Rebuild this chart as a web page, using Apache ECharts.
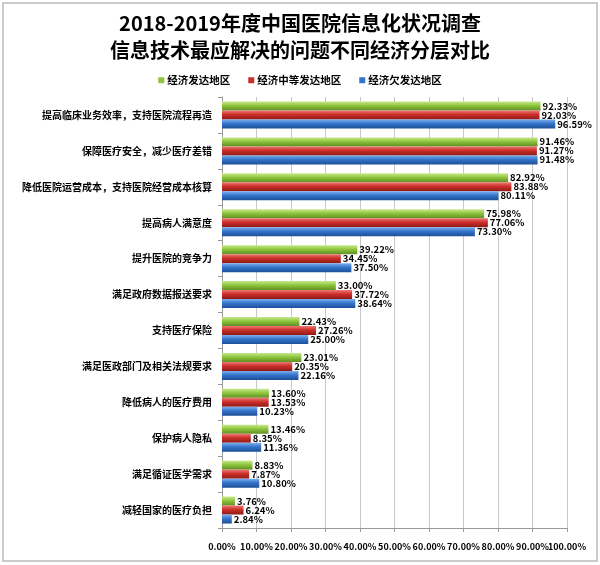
<!DOCTYPE html>
<html><head><meta charset="utf-8">
<script src="https://cdn.jsdelivr.net/npm/echarts@6/dist/echarts.min.js"></script>
<style>html,body{margin:0;padding:0;background:#fff}#c{width:600px;height:565px}</style>
</head><body><div id="c"></div>
<script>
var categories = ['提高临床业务效率，支持医院流程再造','保障医疗安全，减少医疗差错','降低医院运营成本，支持医院经营成本核算','提高病人满意度','提升医院的竞争力','满足政府数据报送要求','支持医疗保险','满足医政部门及相关法规要求','降低病人的医疗费用','保护病人隐私','满足循证医学需求','减轻国家的医疗负担'];
var developed = [92.33,91.46,82.92,75.98,39.22,33.00,22.43,23.01,13.60,13.46,8.83,3.76];
var mid = [92.03,91.27,83.88,77.06,34.45,37.72,27.26,20.35,13.53,8.35,7.87,6.24];
var under = [96.59,91.48,80.11,73.30,37.50,38.64,25.00,22.16,10.23,11.36,10.80,2.84];
var seriesNames = ['经济发达地区','经济中等发达地区','经济欠发达地区'];
var xTicks = [0,10,20,30,40,50,60,70,80,90,100];

var font = '"Noto Sans CJK SC", "Noto Sans", sans-serif';
function grad(light, base, dark){
  return new echarts.graphic.LinearGradient(0,0,0,1,[{offset:0,color:light},{offset:0.45,color:base},{offset:1,color:dark}]);
}
var colors = [grad('#c8ea8e','#8fc63e','#5f8f22'), grad('#ee7a76','#cc2f2a','#8e1a16'), grad('#7fb0ec','#3575cc','#1d4f95')];
var flat = ['#8fc63e','#cc2f2a','#3575cc'];
var data = [developed, mid, under];
var lastTick = xTicks[xTicks.length-1];
function pct(v){return v.toFixed(2)+'%';}
var chart = echarts.init(document.getElementById('c'));
chart.setOption({
  animation:false,
  textStyle:{fontFamily:font},
  title:{text:'2018-2019年度中国医院信息化状况调查\n信息技术最应解决的问题不同经济分层对比',left:'center',top:5,
    textStyle:{fontSize:20,fontWeight:'bold',color:'#000',lineHeight:27,fontFamily:font}},
  legend:{top:70,left:'center',itemWidth:6,itemHeight:6,itemGap:18,icon:'rect',
    textStyle:{fontSize:10.5,fontWeight:'bold',color:'#000',padding:[0,0,0,-2]},
    data:seriesNames.map(function(n,i){return {name:n,itemStyle:{color:flat[i]}};})},
  graphic:[{type:'rect',shape:{x:3,y:3,width:594,height:558},style:{fill:'none',stroke:'#bbb',lineWidth:1.5}}],
  grid:{left:222,right:33,top:97,bottom:37,containLabel:false},
  xAxis:[{type:'value',min:0,max:lastTick,interval:10,
    axisLine:{show:true,lineStyle:{color:'#999'}},axisTick:{show:true,length:4,lineStyle:{color:'#999'}},
    splitLine:{show:true,lineStyle:{color:'#c8c8c8'}},
    axisLabel:{margin:14,fontSize:9,fontWeight:'bold',color:'#000',showMaxLabel:true,showMinLabel:true,
      formatter:function(v){return v===lastTick?'':pct(v);}}},
   {type:'value',min:0,max:lastTick,interval:10,position:'bottom',
    axisLine:{show:false},axisTick:{show:false},splitLine:{show:false},
    axisLabel:{margin:14,fontSize:9,fontWeight:'bold',color:'#000',showMaxLabel:true,showMinLabel:false,
      formatter:function(v){return v===lastTick?pct(v):'';}}}],
  yAxis:{type:'category',data:categories,inverse:true,
    axisLine:{show:true,lineStyle:{color:'#999'}},axisTick:{show:true,length:4,lineStyle:{color:'#999'}},
    axisLabel:{margin:10,fontSize:10,fontWeight:'bold',color:'#000'}},
  series:data.map(function(d,i){return {name:seriesNames[i],type:'bar',xAxisIndex:0,data:d,barWidth:9,barGap:'0%',
    itemStyle:{color:colors[i]},
    label:{show:true,position:'right',distance:2,fontSize:9.5,fontWeight:'bold',color:'#000',
      formatter:function(p){return pct(p.value);}}};})
});
</script></body></html>
